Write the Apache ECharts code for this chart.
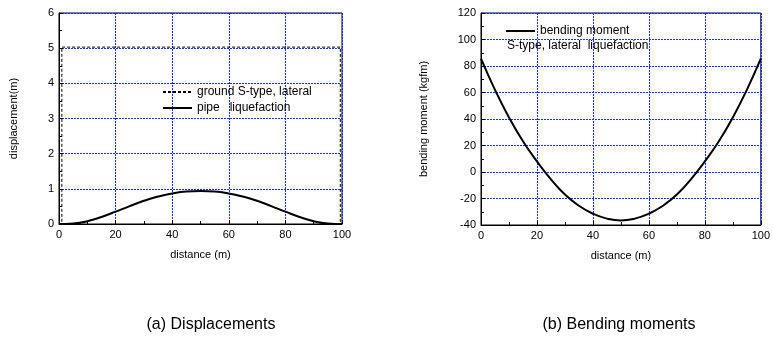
<!DOCTYPE html>
<html><head><meta charset="utf-8">
<script src="https://cdn.jsdelivr.net/npm/echarts@6/dist/echarts.min.js"></script>
<style>html,body{margin:0;padding:0;background:#fff}#c{width:773px;height:344px}</style>
</head><body><div id="c"></div>
<script>
// distance (m)
const distance = [0,5,10,15,20,25,30,35,40,45,50,55,60,65,70,75,80,85,90,95,100];
// pipe displacement (m)
const pipeDisp = [0,0.015,0.08,0.2,0.35,0.51,0.66,0.78,0.87,0.925,0.94,0.925,0.87,0.78,0.66,0.51,0.35,0.2,0.08,0.015,0];
// ground displacement (m), outline
const groundX = [0,1,1,99.4,99.4,100];
const groundY = [0,0,5.03,5.03,0,0];
// bending moment (kgfm)
const moment = [85.5,62,41.2,23.2,8,-5.5,-17,-25.5,-31.5,-35.2,-36.6,-35.2,-31.5,-25.5,-17,-5.5,8,23.2,41.2,62,85.5];

const FONT = 'Liberation Sans';
function splitL(){ return {show:true, lineStyle:{color:'#1a2cff', type:[2,1], width:1}}; }
function gridOf(l,t,w,h){ return {left:l, top:t, width:w, height:h, show:true, borderColor:'#000', borderWidth:1, backgroundColor:'transparent'}; }
function xAx(gi){
  return {type:'value', gridIndex:gi, min:0, max:100, interval:20, name:'distance (m)', nameLocation:'middle', nameGap:25,
    nameTextStyle:{fontFamily:FONT, fontSize:11, color:'#000'},
    axisLine:{onZero:false, lineStyle:{color:'#000'}}, axisTick:{inside:true, length:4, lineStyle:{color:'#000'}},
    minorTick:{show:true, splitNumber:2, length:3, lineStyle:{color:'#000'}},
    axisLabel:{fontFamily:FONT, fontSize:11, color:'#000', margin:5}, splitLine:splitL()};
}
function yAx(gi, min, max, iv, name, gap){
  return {type:'value', gridIndex:gi, min:min, max:max, interval:iv, name:name, nameLocation:'middle', nameGap:gap,
     nameTextStyle:{fontFamily:FONT, fontSize:11, color:'#000'},
     axisLine:{show:true, onZero:false, lineStyle:{color:'#000'}}, axisTick:{show:true, inside:true, length:4, lineStyle:{color:'#000'}},
     minorTick:{show:true, splitNumber:2, length:3, lineStyle:{color:'#000'}},
     axisLabel:{fontFamily:FONT, fontSize:11, color:'#000', margin:5}, splitLine:splitL()};
}
const option = {
  animation:false,
  backgroundColor:'#fff',
  title:[
    {text:'(a) Displacements', left:206, top:312, textAlign:'center', textStyle:{fontFamily:FONT, fontSize:16, fontWeight:'normal', color:'#000'}},
    {text:'(b) Bending moments', left:614, top:312, textAlign:'center', textStyle:{fontFamily:FONT, fontSize:16, fontWeight:'normal', color:'#000'}},
    {text:'S-type, lateral  liquefaction', left:507, top:40, padding:0, textStyle:{fontFamily:FONT, fontSize:12, fontWeight:'normal', color:'#000'}}
  ],
  legend:[
    {data:['ground S-type, lateral','pipe   liquefaction'], orient:'vertical', left:162, top:86, padding:0, itemWidth:29, itemHeight:12, itemGap:4,
     itemStyle:{opacity:0}, textStyle:{fontFamily:FONT, fontSize:12, color:'#000'}},
    {data:['bending moment'], left:505, top:25, padding:0, itemWidth:29, itemHeight:12, itemStyle:{opacity:0},
     textStyle:{fontFamily:FONT, fontSize:12, color:'#000'}}
  ],
  grid:[gridOf(59,13,283,211), gridOf(481,13,285,212)],
  xAxis:[xAx(0), xAx(1)],
  yAxis:[
    yAx(0, 0, 6, 1, 'displacement(m)', 40),
    yAx(1, -40, 120, 20, 'bending moment (kgfm)', 52)
  ],
  series:[
    {name:'ground S-type, lateral', type:'line', xAxisIndex:0, yAxisIndex:0, symbol:'none', z:3,
     data:groundX.map((x,i)=>[x,groundY[i]]), lineStyle:{color:'#000', width:1, type:[3,2]}, itemStyle:{color:'#000'}},
    {name:'pipe   liquefaction', type:'line', xAxisIndex:0, yAxisIndex:0, symbol:'none', smooth:true,
     data:distance.map((x,i)=>[x,pipeDisp[i]]), lineStyle:{color:'#000', width:2}, itemStyle:{color:'#000'}},
    {name:'bending moment', type:'line', xAxisIndex:1, yAxisIndex:1, symbol:'none', smooth:true,
     data:distance.map((x,i)=>[x,moment[i]]), lineStyle:{color:'#000', width:2}, itemStyle:{color:'#000'}}
  ]
};
const chart = echarts.init(document.getElementById('c'), null, {renderer:'canvas'});
chart.setOption(option);
</script></body></html>
